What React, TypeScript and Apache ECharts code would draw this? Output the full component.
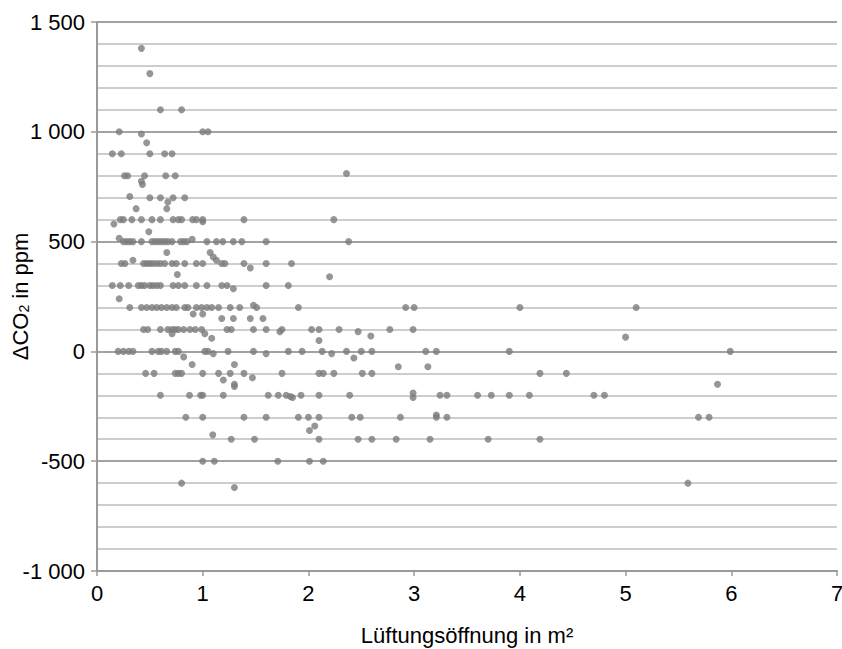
import React, { useEffect, useRef } from "react";
import * as echarts from "echarts";

// [Lüftungsöffnung m², ΔCO2 ppm]
const pointsHigh: [number, number][] = [
  [0.42, 1380], [0.5, 1265], [0.6, 1100], [0.8, 1100],
  [0.21, 1000], [0.42, 990], [1.0, 1000], [1.05, 1000], [0.47, 950],
  [0.145, 900], [0.23, 900], [0.5, 900], [0.64, 900], [0.71, 900],
  [0.26, 800], [0.29, 800], [0.45, 800], [0.65, 800], [0.74, 800], [0.42, 775], [0.43, 760], [2.36, 810],
  [0.31, 705], [0.5, 700], [0.6, 700], [0.72, 700], [0.83, 700], [0.67, 680], [0.66, 650], [0.37, 650],
];

const pointsMid: [number, number][] = [
  [0.16, 580], [0.22, 600], [0.25, 600], [0.33, 600], [0.42, 600], [0.52, 600], [0.6, 600], [0.72, 600],
  [0.77, 600], [0.8, 600], [0.905, 600], [0.94, 600], [1.0, 600], [1.0, 590], [1.39, 600], [2.24, 600],
  [0.49, 545],
  [0.21, 515], [0.25, 500], [0.28, 500], [0.31, 500], [0.34, 500], [0.42, 500], [0.52, 500], [0.55, 500],
  [0.58, 500], [0.61, 500], [0.64, 500], [0.67, 500], [0.71, 500], [0.79, 500], [0.82, 500], [0.85, 500],
  [0.9, 510], [1.04, 500], [1.13, 500], [1.19, 500], [1.29, 500], [1.37, 500], [1.6, 500], [2.38, 500],
  [0.66, 450],
  [0.23, 400], [0.265, 400], [0.34, 415], [0.44, 400], [0.47, 400], [0.5, 400], [0.53, 400], [0.565, 400],
  [0.6, 400], [0.64, 400], [0.71, 400], [0.75, 400], [0.83, 400], [0.94, 400], [1.0, 400], [1.07, 450],
  [1.1, 430], [1.13, 415], [1.18, 400], [1.21, 400], [1.39, 400], [1.45, 380], [1.6, 400], [1.84, 400],
  [0.76, 350], [2.2, 340],
  [0.145, 300], [0.22, 300], [0.3, 300], [0.39, 300], [0.42, 300], [0.45, 300], [0.5, 300], [0.53, 300],
  [0.565, 300], [0.6, 300], [0.72, 300], [0.77, 300], [0.83, 300], [0.94, 300], [1.04, 300], [1.18, 300],
  [1.23, 300], [1.29, 285], [1.6, 300], [1.81, 300],
  [0.21, 240],
  [0.31, 200], [0.42, 200], [0.47, 200], [0.52, 200], [0.565, 200], [0.61, 200], [0.66, 200], [0.71, 200],
  [0.75, 200], [0.83, 200], [0.86, 200], [0.91, 170], [0.94, 200], [0.99, 200], [1.0, 170], [1.04, 200],
  [1.085, 200], [1.15, 200], [1.18, 150], [1.26, 200], [1.29, 150], [1.35, 200], [1.45, 150], [1.48, 210],
  [1.51, 200], [1.57, 150], [1.905, 200], [2.92, 200], [3.0, 200],
  [0.44, 100], [0.48, 100], [0.6, 100], [0.67, 100], [0.71, 100], [0.71, 80], [0.74, 100], [0.77, 100],
  [0.82, 100], [0.88, 100], [0.93, 100], [0.99, 100], [1.02, 80], [1.085, 60], [1.23, 100], [1.27, 100],
  [1.48, 100], [1.6, 100], [1.73, 90], [1.75, 100], [2.03, 100], [2.1, 100], [2.1, 50], [2.29, 100],
  [2.47, 90], [2.59, 70], [2.77, 100], [2.99, 100],
];

const pointsLow: [number, number][] = [
  [0.2, 0], [0.25, 0], [0.3, 0], [0.34, 0], [0.52, 0], [0.58, 0], [0.61, 0], [0.66, 0], [0.74, 0], [0.77, 0],
  [0.82, -25], [0.9, -60], [1.02, 0], [1.05, 0], [1.1, -10], [1.24, 0], [1.3, -60], [1.48, 0], [1.6, -10],
  [1.81, 0], [1.94, 0], [2.13, 0], [2.22, -10], [2.36, 0], [2.43, -30], [2.5, 0], [2.6, 0], [3.11, 0],
  [3.21, 0], [3.9, 0], [5.99, 0],
  [2.85, -70], [3.13, -70],
  [0.46, -100], [0.54, -100], [0.74, -100], [0.77, -100], [0.8, -100], [1.0, -100], [1.15, -100],
  [1.26, -100], [1.39, -100], [1.47, -120], [1.195, -130], [1.3, -150], [1.3, -160], [1.75, -100],
  [2.1, -100], [2.14, -100], [2.24, -100], [2.51, -100], [2.6, -100], [4.19, -100], [4.44, -100],
  [0.6, -200], [0.875, -200], [0.98, -200], [1.0, -200], [1.195, -200], [1.62, -200], [1.715, -200],
  [1.79, -200], [1.83, -205], [1.85, -210], [1.93, -200], [2.1, -200], [2.39, -200], [2.99, -190],
  [2.99, -210], [3.245, -200], [3.31, -200], [3.6, -200], [3.73, -200], [3.9, -200], [4.09, -200],
  [4.7, -200], [4.8, -200], [5.87, -150],
  [0.84, -300], [1.0, -300], [1.39, -300], [1.6, -300], [1.905, -300], [2.0, -300], [2.1, -300],
  [2.01, -360], [2.06, -340], [2.41, -300], [2.49, -300], [2.87, -300], [3.21, -290], [3.21, -300],
  [3.31, -300], [5.69, -300], [5.79, -300],
  [1.095, -380], [1.27, -400], [1.49, -400], [2.1, -400], [2.47, -400], [2.6, -400], [2.83, -400],
  [3.15, -400], [3.7, -400], [4.19, -400],
  [1.0, -500], [1.11, -500], [1.71, -500], [2.01, -500], [2.14, -500],
  [0.8, -600], [1.3, -620], [5.59, -600],
];

const pointsRight: [number, number][] = [
  [4.0, 200], [5.1, 200], [5.0, 65],
];

const yTickLabels: Record<string, string> = {
  "1500": "1 500", "1000": "1 000", "500": "500", "0": "0", "-500": "-500", "-1000": "-1 000",
};

const FONT = "'Liberation Sans', Arial, sans-serif";

export default function App() {
  const ref = useRef<HTMLDivElement>(null);
  useEffect(() => {
    if (!ref.current) return;
    const chart = echarts.init(ref.current, null, { renderer: "svg" });
    chart.setOption({
      animation: false,
      backgroundColor: "#ffffff",
      textStyle: { fontFamily: FONT },
      grid: { left: 97, right: 5, top: 22, bottom: 78, containLabel: false, outerBoundsMode: "none" },
      xAxis: {
        type: "value",
        min: 0,
        max: 7,
        interval: 1,
        name: "Lüftungsöffnung in m²",
        nameLocation: "middle",
        nameGap: 53,
        nameMoveOverlap: false,
        nameTextStyle: { color: "#000", fontSize: 22, fontFamily: FONT },
        axisLine: { show: true, onZero: false, lineStyle: { color: "#9a9a9a", width: 2 } },
        axisTick: { show: true, length: 5, lineStyle: { color: "#9a9a9a", width: 1.5 } },
        axisLabel: { color: "#000", fontSize: 22, margin: 11, fontFamily: FONT },
        splitLine: { show: false },
      },
      yAxis: {
        type: "value",
        min: -1000,
        max: 1500,
        interval: 500,
        name: "{n|ΔCO}{sub|2}{n| in ppm}",
        nameLocation: "middle",
        nameGap: 66,
        nameRotate: 90,
        nameMoveOverlap: false,
        nameTextStyle: {
          color: "#000",
          fontSize: 22,
          fontFamily: FONT,
          rich: {
            n: { fontSize: 22, lineHeight: 26, fontFamily: FONT, color: "#000", verticalAlign: "bottom" },
            sub: { fontSize: 14, lineHeight: 19, fontFamily: FONT, color: "#000", verticalAlign: "bottom" },
          },
        },
        axisLine: { show: true, onZero: false, lineStyle: { color: "#9a9a9a", width: 2 } },
        axisTick: { show: true, length: 6, lineStyle: { color: "#9a9a9a", width: 1.5 } },
        minorTick: { show: false, splitNumber: 5 },
        axisLabel: {
          color: "#000",
          fontSize: 22,
          margin: 12,
          fontFamily: FONT,
          formatter: (v: number) => yTickLabels[String(v)] ?? String(v),
        },
        splitLine: { show: true, lineStyle: { color: "#a2a2a2", width: 2 } },
        minorSplitLine: { show: true, lineStyle: { color: "#cdcdcd", width: 2 } },
      },
      series: [pointsHigh, pointsMid, pointsLow, pointsRight].map((d) => ({
        type: "scatter",
        data: d,
        symbol: "circle",
        symbolSize: 7,
        itemStyle: { color: "#7c7c7c" },
        silent: true,
      })),
    });
    return () => chart.dispose();
  }, []);
  return <div ref={ref} style={{ position: "fixed", left: 0, top: 0, width: 842, height: 649 }} />;
}
